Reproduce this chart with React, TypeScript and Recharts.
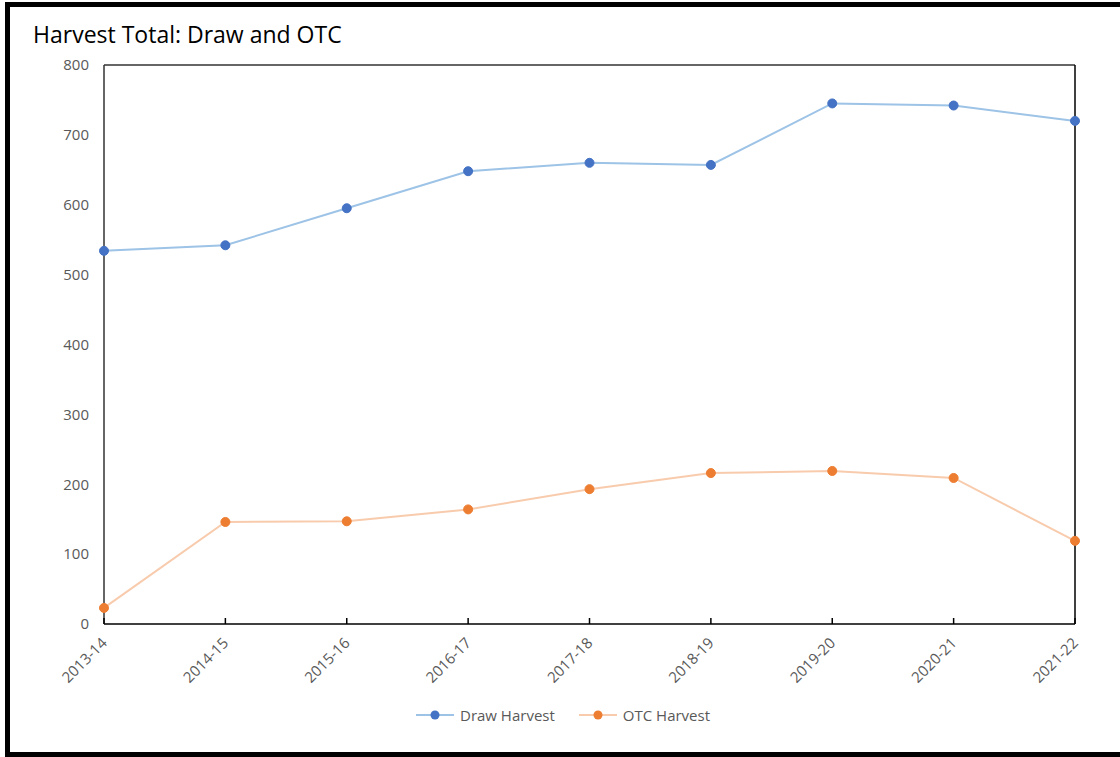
import React from "react";
import {
  LineChart,
  Line,
  XAxis,
  YAxis,
  Legend,
  ReferenceLine,
} from "recharts";

const seasons = [
  "2013-14",
  "2014-15",
  "2015-16",
  "2016-17",
  "2017-18",
  "2018-19",
  "2019-20",
  "2020-21",
  "2021-22",
];
const drawHarvest = [534, 542, 595, 648, 660, 657, 745, 742, 720];
const otcHarvest = [23, 146, 147, 164, 193, 216, 219, 209, 119];
const yTicks = [0, 100, 200, 300, 400, 500, 600, 700, 800];

const data = seasons.map((s, i) => ({
  season: s,
  draw: drawHarvest[i],
  otc: otcHarvest[i],
}));

const FONT = '"Open Sans", "Noto Sans", sans-serif';
const AXIS = "#595959";

const SeasonTick = (props: any) => {
  const { x, y, payload } = props;
  return (
    <g>
      <line x1={x} x2={x} y1={y} y2={y - 6} stroke="#000" strokeWidth={1.5} />
      <text
        x={x + 4}
        y={y + 20}
        textAnchor="end"
        fontSize={15}
        fontFamily={FONT}
        fill={AXIS}
        transform={`rotate(-45, ${x + 4}, ${y + 20})`}
      >
        {payload.value}
      </text>
    </g>
  );
};

const LegendBox = () => {
  const items = [
    { label: "Draw Harvest", line: "#9DC3E6", dot: "#4472C4" },
    { label: "OTC Harvest", line: "#F8CBAD", dot: "#ED7D31" },
  ];
  return (
    <div style={{ display: "flex", gap: 24, fontFamily: FONT, fontSize: 15, color: AXIS }}>
      {items.map((it) => (
        <div key={it.label} style={{ display: "flex", alignItems: "center" }}>
          <svg width={40} height={12} style={{ marginRight: 4 }}>
            <line x1={0} x2={38} y1={6} y2={6} stroke={it.line} strokeWidth={2} />
            <circle cx={19} cy={6} r={4.5} fill={it.dot} />
          </svg>
          <span>{it.label}</span>
        </div>
      ))}
    </div>
  );
};

export default function App() {
  return (
    <div
      style={{
        position: "absolute",
        top: 0,
        left: 0,
        width: 1120,
        height: 757,
        background: "#fff",
        overflow: "hidden",
      }}
    >
      <div
        style={{
          position: "absolute",
          top: 2,
          left: 5,
          width: 1130,
          height: 755,
          border: "5px solid #000",
          boxSizing: "border-box",
        }}
      />
      <div
        style={{
          position: "absolute",
          top: 18,
          left: 33,
          fontFamily: FONT,
          fontSize: 23,
          color: "#000",
        }}
      >
        Harvest Total: Draw and OTC
      </div>
      <div style={{ position: "absolute", top: 0, left: 0 }}>
        <LineChart
          width={1120}
          height={757}
          data={data}
          margin={{ top: 65, right: 45, bottom: 0, left: 0 }}
        >
          <XAxis
            dataKey="season"
            interval={0}
            height={133}
            axisLine={{ stroke: "#000", strokeWidth: 1.5 }}
            tickLine={false}
            tickSize={0}
            tickMargin={0}
            tick={<SeasonTick />}
          />
          <YAxis
            width={104}
            domain={[0, 800]}
            ticks={yTicks}
            interval={0}
            axisLine={{ stroke: "#333", strokeWidth: 1.5 }}
            tickLine={false}
            tickMargin={9}
            tick={{ fontSize: 15, fontFamily: FONT, fill: AXIS }}
          />
          <ReferenceLine y={800} stroke="#333" strokeWidth={1.5} />
          <ReferenceLine x="2021-22" stroke="#000" strokeWidth={1.5} />
          <Line
            dataKey="draw"
            name="Draw Harvest"
            stroke="#9DC3E6"
            strokeWidth={2}
            dot={{ r: 4.5, fill: "#4472C4", stroke: "#4472C4", strokeWidth: 1 }}
            isAnimationActive={false}
          />
          <Line
            dataKey="otc"
            name="OTC Harvest"
            stroke="#F8CBAD"
            strokeWidth={2}
            dot={{ r: 4.5, fill: "#ED7D31", stroke: "#ED7D31", strokeWidth: 1 }}
            isAnimationActive={false}
          />
          <Legend
            verticalAlign="middle"
            align="center"
            content={<LegendBox />}
            wrapperStyle={{ top: 705, left: 416, width: "auto" }}
          />
        </LineChart>
      </div>
    </div>
  );
}
